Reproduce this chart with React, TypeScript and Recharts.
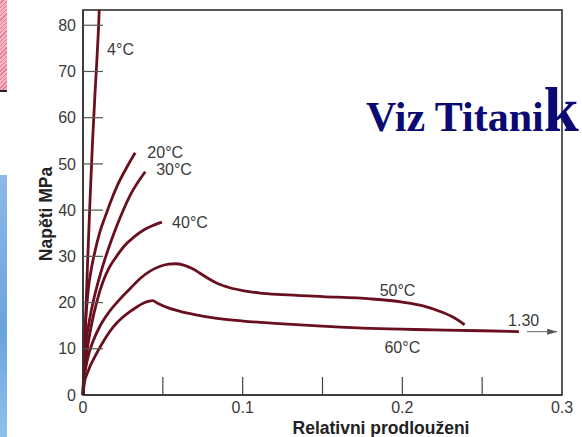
import { LineChart, Line, XAxis, YAxis, ReferenceDot, ReferenceArea } from "recharts";

// strain (relative elongation) / stress (MPa) per temperature
const strain4 = [0, 0.0012, 0.0028, 0.0045, 0.006, 0.0074, 0.0087, 0.0098, 0.0106];
const stress4 = [0, 12, 28, 43, 55, 64.5, 72.5, 80, 87];
const strain20 = [0, 0.0005, 0.0015, 0.0035, 0.0055, 0.0077, 0.0105, 0.0139, 0.0175, 0.0212, 0.027, 0.0327];
const stress20 = [0, 7, 15, 23.4, 27.8, 31.4, 35.2, 38.6, 42, 45.1, 49, 52.4];
const strain30 = [0, 0.0006, 0.002, 0.0045, 0.0077, 0.011, 0.0145, 0.018, 0.0215, 0.0255, 0.03, 0.039];
const stress30 = [0, 5.5, 11.5, 17, 22.1, 26.3, 30.2, 33.7, 36.9, 40.2, 43.5, 48.3];
const strain40 = [0, 0.0008, 0.0025, 0.0055, 0.0085, 0.0125, 0.0165, 0.021, 0.026, 0.032, 0.038, 0.044, 0.0494];
const stress40 = [0, 4.5, 9.5, 15.5, 20, 24.5, 27.6, 30, 32.3, 34.2, 35.7, 36.7, 37.4];
const strain50 = [0, 0.0008, 0.003, 0.0065, 0.0108, 0.016, 0.0233, 0.03, 0.0358, 0.042, 0.048, 0.0535, 0.0577, 0.063, 0.068, 0.0735, 0.079, 0.085, 0.092, 0.1, 0.11, 0.125, 0.15, 0.18, 0.2, 0.213, 0.225, 0.233, 0.239];
const stress50 = [0, 3.5, 8, 11.8, 15, 17.8, 20.8, 23.2, 25.2, 26.8, 27.8, 28.3, 28.4, 28.1, 27.4, 26.3, 25.1, 24, 23.2, 22.6, 22.1, 21.7, 21.3, 20.8, 20.1, 19.3, 17.9, 16.6, 15.2];
const strain60 = [0, 0.0008, 0.003, 0.0087, 0.014, 0.0191, 0.0245, 0.0296, 0.034, 0.038, 0.0415, 0.0435, 0.047, 0.053, 0.0608, 0.07, 0.0817, 0.1, 0.12, 0.15, 0.18, 0.22, 0.25, 0.273];
const stress60 = [0, 2.5, 5, 9.1, 12.3, 14.8, 16.7, 18.1, 19.1, 19.9, 20.3, 20.4, 19.8, 18.9, 18.1, 17.4, 16.7, 16, 15.5, 14.9, 14.4, 14.1, 13.9, 13.7];

// arrow pointing to the 60°C break at 1.30
const arrowStrain = [0.278, 0.297];
const arrowStress = [13.7, 13.7];

const curveLabels = ["4°C", "20°C", "30°C", "40°C", "50°C", "60°C", "1.30"];
const labelStrain = [0.0235, 0.0515, 0.057, 0.067, 0.197, 0.2, 0.276];
const labelStress = [74.7, 52.6, 48.9, 37.4, 22.7, 10.4, 16.2];

const xTicks = [0, 0.05, 0.1, 0.15, 0.2, 0.25, 0.3];
const xTickLabels = ["0", "", "0.1", "", "0.2", "", "0.3"];
const yTicks = [0, 10, 20, 30, 40, 50, 60, 70, 80];

const pts = (xs: number[], ys: number[]) => xs.map((x, i) => ({ x, y: ys[i] }));

const CURVE = "#6a0f1e";
const FONT = "'Liberation Sans', Arial, sans-serif";
const TEXT = "#3a3a3a";

function BottomTick(props: any) {
  const { x, y, index } = props;
  const inner = index > 0 && index < xTicks.length - 1;
  return (
    <g>
      {inner && <line x1={x} y1={y} x2={x} y2={y - 18} stroke="#444" strokeWidth={1.2} />}
      <text x={x} y={y + 12} dy="0.35em" textAnchor="middle" fontSize={16} fontFamily={FONT} fill={TEXT}>
        {xTickLabels[index]}
      </text>
    </g>
  );
}

function TopTick(props: any) {
  const { x, y, index } = props;
  if (index === 0 || index === xTicks.length - 1) return <g />;
  return <line x1={x} y1={y} x2={x} y2={y + 20} stroke="#555" strokeWidth={1.2} />;
}

function LeftTick(props: any) {
  const { x, y, payload } = props;
  return (
    <g>
      {payload.value > 0 && <line x1={x} y1={y} x2={x + 20} y2={y} stroke="#555" strokeWidth={1.2} />}
      <text x={x - 7} y={y} dy="0.35em" textAnchor="end" fontSize={16} fontFamily={FONT} fill={TEXT}>
        {payload.value}
      </text>
    </g>
  );
}

function ArrowHead(props: any) {
  const { cx, cy, index } = props;
  if (index !== arrowStrain.length - 1) return <g key={`a${index}`} />;
  return <polygon key={`a${index}`} points={`${cx},${cy} ${cx - 10},${cy - 3} ${cx - 10},${cy + 3}`} fill="#555" />;
}

const series = [
  pts(strain4, stress4),
  pts(strain20, stress20),
  pts(strain30, stress30),
  pts(strain40, stress40),
  pts(strain50, stress50),
  pts(strain60, stress60),
];

export default function App() {
  return (
    <div style={{ position: "absolute", left: 0, top: 0, width: 582, height: 437, background: "#fff", overflow: "hidden" }}>
      <div style={{ position: "absolute", left: 0, top: 0, width: 7, height: 90, background: "repeating-linear-gradient(135deg, #f4b6c4 0 2px, #e8798f 2px 3px)", borderBottom: "2px solid #222" }} />
      <div style={{ position: "absolute", left: 0, top: 175, width: 7, height: 262, background: "linear-gradient(180deg, #8cb8e8, #6aa4dc 60%, #8fc0ec)" }} />
      <div style={{ position: "absolute", left: 0, top: 0 }}>
        <LineChart width={582} height={437} margin={{ top: 10, right: 20, bottom: 0, left: 0 }}>
          <XAxis
            type="number"
            dataKey="x"
            domain={[0, 0.3]}
            ticks={xTicks}
            interval={0}
            tickSize={0}
            tickMargin={0}
            tickLine={false}
            tick={<BottomTick />}
            height={42}
            axisLine={{ stroke: "#333", strokeWidth: 1.5 }}
            label={{
              content: (p: any) => (
                <text x={(p.viewBox?.x ?? 83) + 298} y={(p.viewBox?.y ?? 395) + 39} textAnchor="middle" fontSize={17.5} fontWeight="bold" fontFamily={FONT} fill="#222">
                  Relativni prodlouženi
                </text>
              ),
            }}
          />
          <XAxis
            xAxisId="top"
            orientation="top"
            type="number"
            dataKey="x"
            domain={[0, 0.3]}
            ticks={xTicks}
            interval={0}
            tickSize={0}
            tickMargin={0}
            tickLine={false}
            tick={<TopTick />}
            height={0}
            axisLine={{ stroke: "#444", strokeWidth: 1.2 }}
          />
          <YAxis
            type="number"
            domain={[0, 83.3]}
            ticks={yTicks}
            interval={0}
            allowDataOverflow
            tickSize={0}
            tickMargin={0}
            tickLine={false}
            tick={<LeftTick />}
            width={83}
            axisLine={{ stroke: "#333", strokeWidth: 1.5 }}
            label={{
              content: (p: any) => {
                const cx = (p.viewBox?.x ?? 0) + 46;
                const cy = (p.viewBox?.y ?? 10) + 204;
                return (
                  <text x={cx} y={cy} transform={`rotate(-90 ${cx} ${cy})`} textAnchor="middle" dy="0.35em" fontSize={17.5} fontWeight="bold" fontFamily={FONT} fill="#222">
                    Napěti MPa
                  </text>
                );
              },
            }}
          />
          <ReferenceArea x1={0} x2={0.3} y1={0} y2={83.3} fill="none" stroke="#222" strokeWidth={1.5} ifOverflow="visible" />
          {series.map((d, i) => (
            <Line
              key={curveLabels[i]}
              data={d}
              dataKey="y"
              type="monotone"
              stroke={CURVE}
              strokeWidth={2.8}
              dot={false}
              isAnimationActive={false}
            />
          ))}
          <Line
            data={pts(arrowStrain, arrowStress)}
            dataKey="y"
            type="linear"
            stroke="#666"
            strokeWidth={1}
            dot={ArrowHead}
            isAnimationActive={false}
          />
          {curveLabels.map((name, i) => (
            <ReferenceDot
              key={name}
              x={labelStrain[i]}
              y={labelStress[i]}
              r={0}
              fill="none"
              stroke="none"
              ifOverflow="visible"
              label={{ value: name, position: "center", fill: TEXT, fontSize: 16, fontFamily: FONT }}
            />
          ))}
        </LineChart>
      </div>
      <svg width={582} height={437} style={{ position: "absolute", left: 0, top: 0, pointerEvents: "none" }}>
        <text x={366} y={131} fontFamily="'Liberation Serif', 'Times New Roman', serif" fontWeight="bold" fontSize={42} fill="#0a0a72">
          Viz Titani<tspan fontSize={63}>k</tspan>
        </text>
      </svg>
    </div>
  );
}
